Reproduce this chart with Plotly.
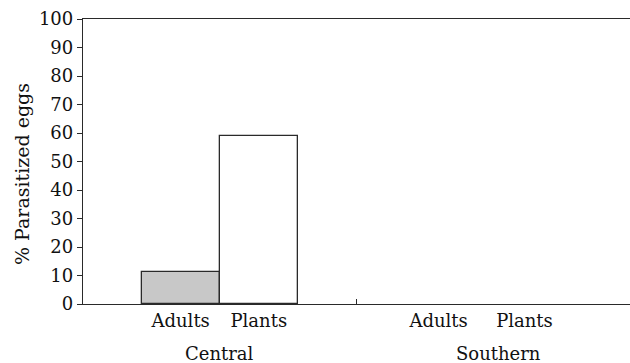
import plotly.graph_objects as go

# Egg parasitism by sample type and region
regions = ["Central", "Southern"]
sample_types = ["Adults", "Plants"]
central_values = [11.3, 58.9]
southern_values = [0.0, 0.0]
y_ticks = list(range(0, 101, 10))
y_title = "% Parasitized eggs"

# horizontal positions of the bars (axis units, one unit = one bar width)
central_x = [1.25, 2.25]
southern_x = [4.55, 5.65]
divider_x = [3.5]
group_label_x = [1.75, 5.32]

fill_colors = ["#c8c8c8", "#ffffff"]
line_color = "#2a2a2a"
text_color = "#111111"
font_family = "DejaVu Serif"

values = central_values + southern_values
# zero-height bars get no outline
outline_widths = [1.3 if v > 0 else 0 for v in values]

fig = go.Figure()
fig.add_trace(go.Bar(
    x=central_x + southern_x,
    y=values,
    width=1.0,
    marker=dict(color=fill_colors + fill_colors,
                line=dict(color=line_color, width=outline_widths)),
    showlegend=False,
    hoverinfo="skip",
))

fig.update_layout(
    width=630, height=363,
    margin=dict(l=83, r=0, t=19, b=59),
    paper_bgcolor="white", plot_bgcolor="white",
    font=dict(family=font_family, size=18, color=text_color),
    bargap=0,
    xaxis=dict(
        range=[0, 7.0],
        tickvals=central_x + southern_x,
        ticktext=sample_types + sample_types,
        ticks="", showgrid=False, zeroline=False,
        showline=True, linecolor=line_color, linewidth=1.3, mirror=True,
        tickfont=dict(family=font_family, size=18),
    ),
    xaxis2=dict(
        range=[0, 7.0], overlaying="x", side="bottom",
        tickvals=divider_x, showticklabels=False,
        ticks="inside", ticklen=5, tickwidth=1.2, tickcolor=line_color,
        showgrid=False, zeroline=False, showline=False,
    ),
    yaxis=dict(
        range=[0, 100],
        tickvals=y_ticks,
        ticks="outside", ticklen=5, tickwidth=1.2, tickcolor=line_color,
        showgrid=False, zeroline=False,
        showline=True, linecolor=line_color, linewidth=1.3, mirror=False,
        tickfont=dict(family=font_family, size=18),
    ),
)

# invisible trace so the divider-tick axis is drawn
fig.add_trace(go.Scatter(x=divider_x, y=[0], xaxis="x2", mode="markers",
                         marker=dict(opacity=0), showlegend=False,
                         hoverinfo="skip"))

# vertical axis title
fig.add_annotation(
    x=0, y=0.456, xref="paper", yref="paper",
    text=y_title, showarrow=False, textangle=-90,
    xanchor="center", yanchor="middle", xshift=-61,
    font=dict(family=font_family, size=19, color=text_color),
)

for label, gx in zip(regions, group_label_x):
    fig.add_annotation(
        x=gx, y=0, xref="x", yref="paper",
        text=label, showarrow=False,
        yanchor="top", yshift=-37,
        font=dict(family=font_family, size=18, color=text_color),
    )

fig.write_html("out.html")
